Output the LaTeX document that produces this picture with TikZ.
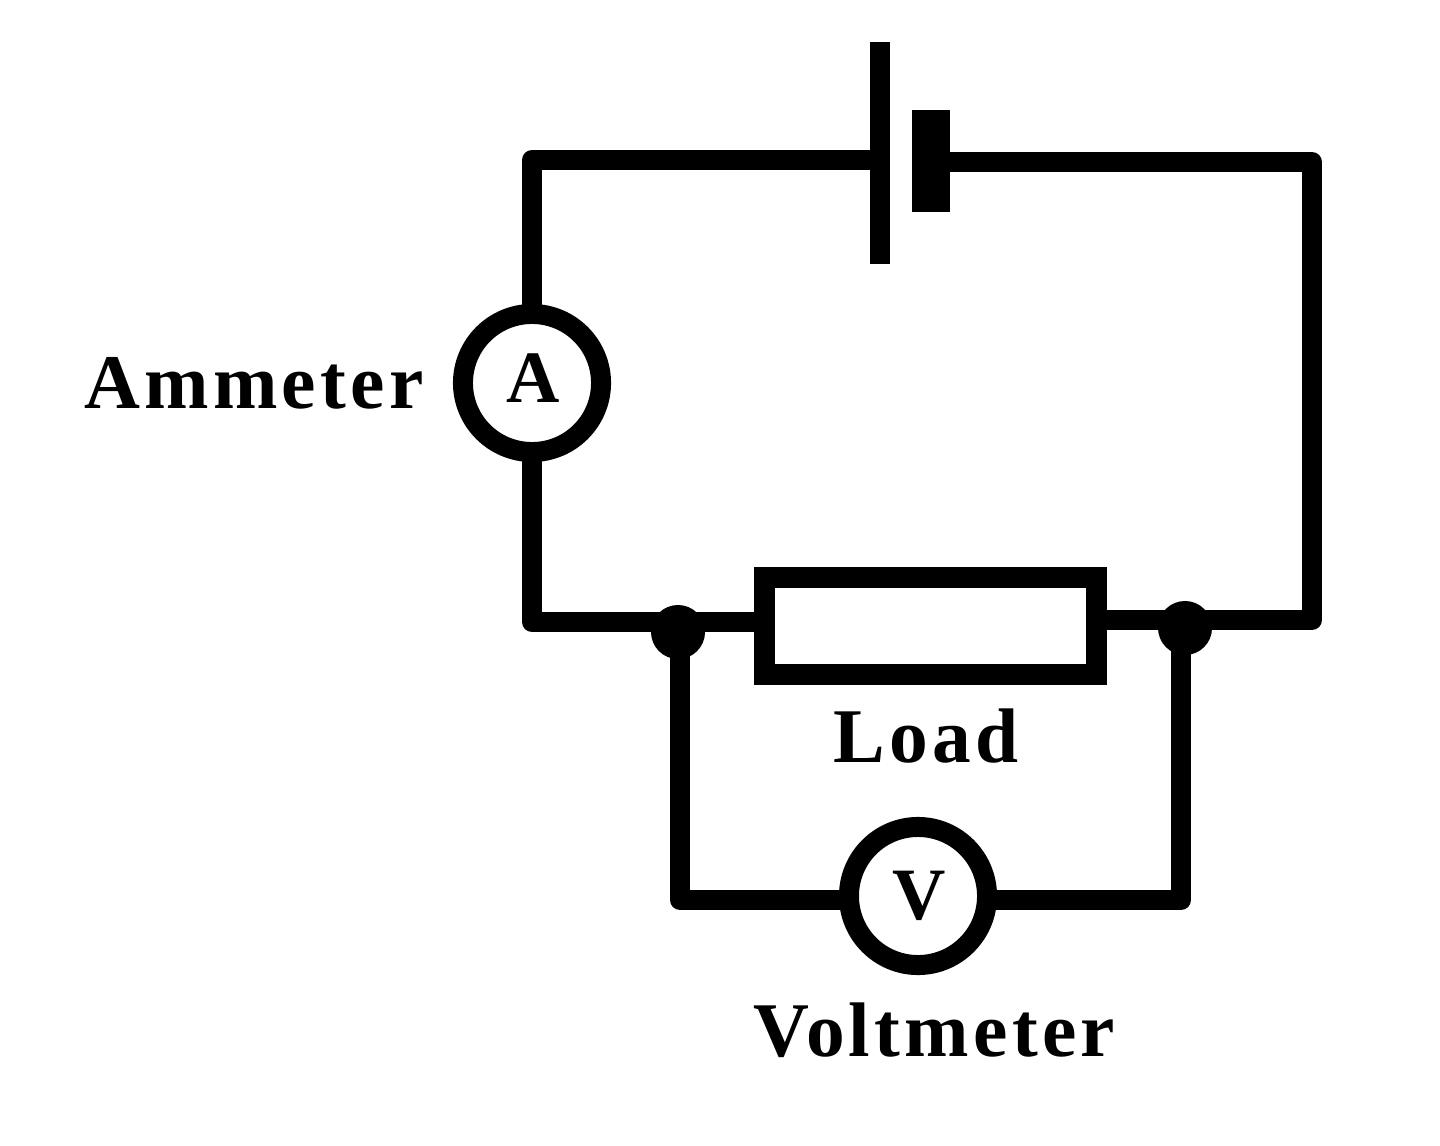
\documentclass[tikz,border=0pt]{standalone}
\usepackage{fontspec}
\setmainfont{Liberation Serif}[LetterSpace=5.5]
\newcommand{\w}{0.2cm}

\begin{document}
\begin{tikzpicture}[x=0.01cm,y=-0.01cm,
    wire/.style={draw, line width=\w, line join=round, line cap=round},
    meter/.style={draw, circle, line width=\w, minimum size=1.38cm, inner sep=0pt, fill=white},
    letter/.style={inner sep=0pt, font=\fontsize{21pt}{21pt}\selectfont\bfseries},
    dot/.style={circle, fill=black, minimum size=0.54cm, inner sep=0pt},
    label/.style={inner sep=0pt, font=\fontsize{22pt}{22pt}\selectfont\bfseries}]
    \useasboundingbox (0,0) rectangle (1440,1146);

    % Battery
    \node[fill=black, minimum width=0.2cm, minimum height=2.22cm, inner sep=0pt] (plate-long) at (880,153) {};
    \node[fill=black, minimum width=0.38cm, minimum height=1.02cm, inner sep=0pt] (plate-short) at (931,161) {};

    % Load and meters
    \node[draw, line width=0.21cm, minimum width=3.32cm, minimum height=0.97cm, inner sep=0pt] (load) at (930.5,626) {};
    \node[meter] (ammeter) at (532,383) {};
    \node[meter] (voltmeter) at (918,896) {};
    \node[letter] (ammeter-letter) at (533,378) {A};
    \node[letter] (voltmeter-letter) at (919,896) {V};
    \node[dot] (dot-left) at (678,632) {};
    \node[dot] (dot-right) at (1185,628) {};

    % Corners
    \coordinate (top-left) at (532,160);
    \coordinate (top-right) at (1312,162);
    \coordinate (bottom-right) at (1312,620);
    \coordinate (bottom-left) at (532,622);
    \coordinate (volt-left) at (680,900);
    \coordinate (volt-right) at (1181,900);

    % Wires
    \draw[wire] (plate-long.west |- top-left) -- (top-left) -- (ammeter.north);
    \draw[wire] (ammeter.south) -- (bottom-left) -- (load.west |- bottom-left);
    \draw[wire] (plate-short.east |- top-right) -- (top-right) -- (bottom-right) -- (load.east |- bottom-right);
    \draw[wire] (dot-left.center -| volt-left) -- (volt-left) -- (voltmeter.west |- volt-left);
    \draw[wire] (dot-right.center -| volt-right) -- (volt-right) -- (voltmeter.east |- volt-right);

    % Labels
    \node[label] (ammeter-label) at (254,383) {Ammeter};
    \node[label] (load-label) at (926,736) {Load};
    \node[label] (voltmeter-label) at (934,1030) {Voltmeter};
\end{tikzpicture}
\end{document}
